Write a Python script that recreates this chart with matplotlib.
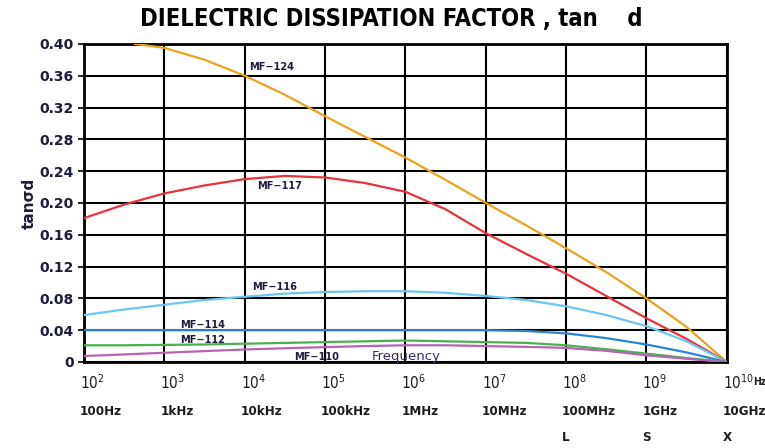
import matplotlib
matplotlib.use('Agg')
import matplotlib.pyplot as plt
import matplotlib.transforms as mtransforms
import numpy as np

# log10(frequency)
logf = [2, 2.5, 3, 3.5, 4, 4.5, 5, 5.5, 6, 6.5, 7, 7.5, 8, 8.5, 9, 9.5, 10]
logf_124 = [2.63, 3, 3.5, 4, 4.5, 5, 5.5, 6, 6.5, 7, 7.5, 8, 8.5, 9, 9.5, 10]

mf124 = [0.400, 0.395, 0.380, 0.360, 0.336, 0.309, 0.283, 0.257, 0.229,
         0.200, 0.172, 0.143, 0.113, 0.080, 0.044, 0.000]
mf117 = [0.181, 0.198, 0.212, 0.222, 0.230, 0.234, 0.232, 0.225, 0.214, 0.192,
         0.162, 0.136, 0.111, 0.083, 0.055, 0.029, 0.000]
mf116 = [0.059, 0.066, 0.072, 0.078, 0.082, 0.086, 0.088, 0.089, 0.089, 0.087,
         0.083, 0.078, 0.070, 0.059, 0.045, 0.026, 0.000]
mf114 = [0.040, 0.040, 0.040, 0.040, 0.040, 0.040, 0.040, 0.040, 0.040, 0.040,
         0.040, 0.039, 0.036, 0.030, 0.022, 0.012, 0.000]
mf112 = [0.021, 0.021, 0.0215, 0.022, 0.023, 0.024, 0.025, 0.026, 0.027, 0.026,
         0.025, 0.024, 0.021, 0.016, 0.0105, 0.005, 0.000]
mf110 = [0.0075, 0.0095, 0.0116, 0.0137, 0.0157, 0.0173, 0.0187, 0.020, 0.021, 0.021,
         0.020, 0.019, 0.0177, 0.014, 0.0084, 0.004, 0.000]

decades = [2, 3, 4, 5, 6, 7, 8, 9, 10]
freq_labels = ['100Hz', '1kHz', '10kHz', '100kHz', '1MHz', '10MHz', '100MHz', '1GHz', '10GHz']
band_labels = {8: 'L', 9: 'S', 10: 'X'}
yticks = [0, 0.04, 0.08, 0.12, 0.16, 0.20, 0.24, 0.28, 0.32, 0.36, 0.40]

series = [
    (logf_124, mf124, '#e8a41c', 'MF\u2212124', 4.06, 0.371),
    (logf, mf117, '#e8323c', 'MF\u2212117', 4.15, 0.221),
    (logf, mf116, '#6cc5ee', 'MF\u2212116', 4.09, 0.094),
    (logf, mf114, '#2c84d0', 'MF\u2212114', 3.19, 0.0465),
    (logf, mf112, '#4cb04e', 'MF\u2212112', 3.19, 0.028),
    (logf, mf110, '#b466b0', 'MF\u2212110', 4.62, 0.006),
]

label_color = '#1c1c3c'
narrow = dict(family='DejaVu Sans', stretch='condensed')

fig = plt.figure(figsize=(7.65, 4.48), dpi=100)
ax = fig.add_axes([0.110, 0.192, 0.840, 0.710])

for xs, ys, color, name, lx, ly in series:
    ax.plot(10.0 ** np.array(xs), ys, color=color, lw=1.6, zorder=3)
    ax.text(10.0 ** lx, ly, name, fontsize=7.8, fontweight='bold',
            color=label_color, va='center', ha='left', zorder=4, **narrow)

ax.text(10.0 ** 5.58, 0.0075, 'Frequency', fontsize=9.5, color='#3a2a6a',
        va='center', ha='left', zorder=4)

ax.set_xscale('log')
ax.set_xlim(1e2, 1e10)
ax.set_ylim(0, 0.40)

ax.set_xticks([10.0 ** d for d in decades])
ax.set_xticklabels([])
ax.tick_params(axis='x', length=0)
ax.xaxis.set_minor_locator(matplotlib.ticker.NullLocator())

ax.set_yticks(yticks)
ax.set_yticklabels(['0' if v == 0 else f'{v:.2f}' for v in yticks],
                   fontsize=10, fontweight='bold', color='#1c1c3c')
ax.tick_params(axis='y', length=4, width=1.2, direction='out')

ax.grid(True, color='black', lw=1.5, zorder=1)
ax.set_axisbelow(True)
for s in ax.spines.values():
    s.set_linewidth(2)

# bottom labels start a few pixels left of each grid line
shift = mtransforms.ScaledTranslation(-4 / 100, 0, fig.dpi_scale_trans)
trans = mtransforms.blended_transform_factory(ax.transData, ax.transAxes) + shift
for d, lab in zip(decades, freq_labels):
    x = 10.0 ** d
    ax.text(x, -0.066, r'$\mathregular{10^{%d}}$' % d, transform=trans,
            fontsize=11, ha='left', va='center', color='#1c1c1c', **narrow)
    ax.text(x, -0.157, lab, transform=trans, fontsize=9.5, ha='left',
            va='center', color='#1c1c1c', fontweight='bold', **narrow)
    if d in band_labels:
        ax.text(x, -0.236, band_labels[d], transform=trans, fontsize=9.5,
                ha='left', va='center', color='#1c1c1c', fontweight='bold', **narrow)
ax.text(10.0 ** 10.375, -0.062, 'Hz', transform=trans, fontsize=7.5,
        ha='left', va='center', color='#1c1c1c', fontweight='bold', **narrow)

ax.set_ylabel('tan\u03c3d', fontsize=11, fontweight='bold', color='#1c1c3c', labelpad=2)

fig.text(0.512, 0.958, 'DIELECTRIC DISSIPATION FACTOR , tan    d',
         ha='center', va='center', fontsize=17, fontweight='bold', **narrow)

fig.savefig('out.png', dpi=100)
